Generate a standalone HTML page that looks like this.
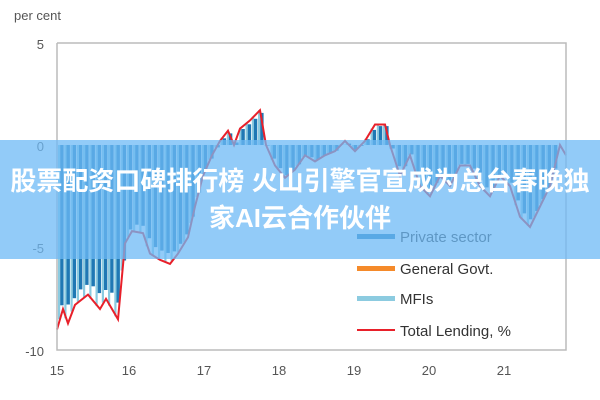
<!DOCTYPE html>
<html><head><meta charset="utf-8"><style>
body{margin:0;width:600px;height:400px;background:#fff;overflow:hidden;position:relative;font-family:"Liberation Sans",sans-serif}
svg{position:absolute;left:0;top:0}
.banner{position:absolute;left:0;top:140px;width:600px;height:119px;background:rgba(110,185,245,0.75);color:#fff;font-family:"Liberation Sans","Noto Sans CJK SC",sans-serif;font-weight:bold;font-size:26px;text-align:center;line-height:37px;padding-top:23px;box-sizing:border-box}
</style></head><body>
<svg width="600" height="400" id="s" xmlns="http://www.w3.org/2000/svg">
<text x="14" y="20" font-size="13" fill="#555">per cent</text>
<g font-size="13" fill="#555" text-anchor="end">
<text x="44" y="49">5</text><text x="44" y="151">0</text><text x="44" y="253">-5</text><text x="44" y="356">-10</text></g>
<g font-size="13" fill="#555" text-anchor="middle">
<text x="57" y="375">15</text><text x="129" y="375">16</text><text x="204" y="375">17</text><text x="279" y="375">18</text><text x="354" y="375">19</text><text x="429" y="375">20</text><text x="504" y="375">21</text></g>
<g id="bars"></g>
<polyline id="ln" fill="none" stroke="#e8202a" stroke-width="2" points="0,0"/>
<polyline points="57,43 566,43 566,350 57,350 57,43" fill="none" stroke="#bbb" stroke-width="1.5"/>
<g font-size="15" fill="#333">
<rect x="357" y="234" width="38" height="5" fill="#1f78b4"/><text x="400" y="242">Private sector</text>
<rect x="357" y="266" width="38" height="5" fill="#f58a2a"/><text x="400" y="274">General Govt.</text>
<rect x="357" y="296" width="38" height="5" fill="#8ccbe0"/><text x="400" y="304">MFIs</text>
<rect x="357" y="329" width="38" height="2" fill="#e8202a"/><text x="400" y="336">Total Lending, %</text></g>
</svg>
<div class="banner">股票配资口碑排行榜 火山引擎官宣成为总台春晚独<br>家AI云合作伙伴</div>
<script>
var pts=[[57,-9],[63,-8],[68,-8.7],[75,-7.8],[88,-7.3],[100,-8],[106,-7.5],[118,-8.5],[125,-4.8],[132,-4.2],[143,-4.3],[150,-5.3],[160,-5.6],[170,-5.8],[178,-5.3],[188,-4.5],[195,-3],[203,-1.5],[212,-0.5],[220,0.2],[228,0.7],[234,0],[240,0.8],[250,1.2],[260,1.7],[266,0],[275,-1],[285,-1.6],[295,-1.2],[305,-0.5],[315,-0.8],[325,-0.5],[335,-0.3],[345,0.2],[355,-0.3],[365,0.2],[375,1],[385,1],[390,0],[400,-1.5],[410,-0.5],[420,-2],[430,-2.5],[440,-1.5],[450,-2],[460,-1],[470,-1],[480,-2],[490,-2.5],[500,-1.5],[510,-2],[520,-3.5],[530,-4],[540,-3],[550,-2],[560,0],[566,-0.5]];
function Y(v){return 145-v*20.5;}
var s='';for(var i=0;i<pts.length;i++){s+=pts[i][0]+','+Y(pts[i][1]).toFixed(1)+' ';}
document.getElementById('ln').setAttribute('points',s);
function val(x){for(var i=1;i<pts.length;i++){if(x<=pts[i][0]){var a=pts[i-1],b=pts[i];return a[1]+(b[1]-a[1])*(x-a[0])/(b[0]-a[0]);}}return pts[pts.length-1][1];}
var g=document.getElementById('bars');var NS='http://www.w3.org/2000/svg';
function R(x,y,w,h,c){var r=document.createElementNS(NS,'rect');r.setAttribute('x',x.toFixed(1));r.setAttribute('y',y.toFixed(1));r.setAttribute('width',w);r.setAttribute('height',Math.max(0,h).toFixed(1));r.setAttribute('fill',c);g.appendChild(r);}
for(var x=58;x<564;x+=6.25){var v=val(x+2);var y0=Y(0),y1=Y(v);var pv=v*0.92;var yp=Y(pv);
R(x,Math.min(y0,y1),2.2,Math.abs(y1-y0),'#8ccbe0');
R(x+2.2,Math.min(y0,yp),3.4,Math.abs(yp-y0),'#1f78b4');}
</script>
</body></html>
